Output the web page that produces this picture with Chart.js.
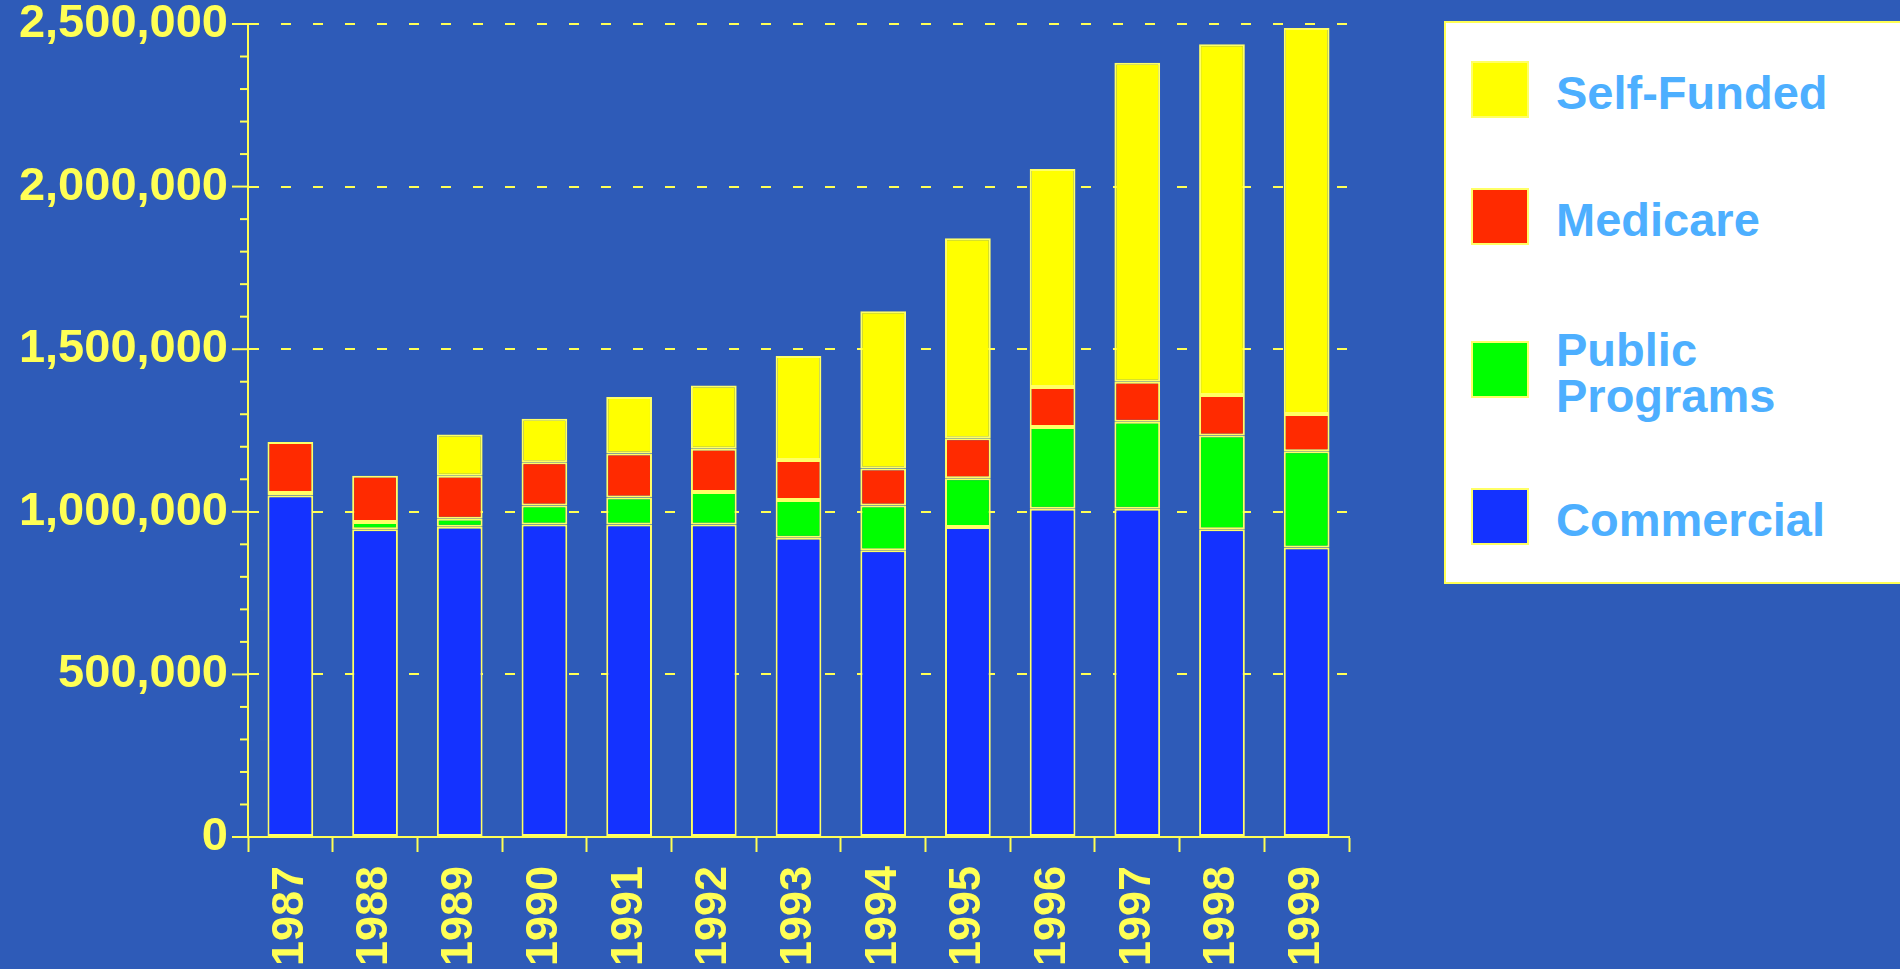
<!DOCTYPE html>
<html>
<head>
<meta charset="utf-8">
<script src="https://cdn.jsdelivr.net/npm/chart.js@4/dist/chart.umd.min.js"></script>
<style>
  body { margin: 0; background: #2E5BB8; overflow: hidden; }
  #wrap { position: relative; width: 1900px; height: 969px; }
  #legend {
    position: absolute; left: 1444px; top: 21px; width: 480px; height: 559px;
    background: #fff; border: 2px solid #FFFF55;
    font-family: "Liberation Sans", Arial, Helvetica, sans-serif; font-weight: bold;
    font-size: 47px; color: #4DAFFF;
  }
  .sw { position: absolute; left: 25px; width: 54px; height: 53px; border: 2px solid #FFFF66; }
  .lbl { position: absolute; left: 110px; line-height: 46px; }
</style>
</head>
<body>
<div id="wrap">
  <canvas id="payerChart" width="1900" height="969"></canvas>
  <div id="legend"></div>
</div>
<script>
const years = ["1987", "1988", "1989", "1990", "1991", "1992", "1993", "1994", "1995", "1996", "1997", "1998", "1999"];
const commercial = [1050000, 946000, 954000, 961000, 961000, 961000, 920000, 882000, 953000, 1009000, 1009000, 946000, 890000];
const publicPrograms = [8000, 23000, 25000, 58000, 83000, 100000, 116000, 137000, 150000, 252000, 268000, 289000, 296000];
const medicare = [157000, 142000, 132000, 133000, 135000, 133000, 123000, 114000, 123000, 123000, 123000, 124000, 115000];
const selfFunded = [0, 0, 127000, 134000, 174000, 194000, 320000, 484000, 615000, 670000, 981000, 1079000, 1187000];
const yMax = 2500000;
const yStep = 100000;
const yLabelStep = 500000;

const axisYellow = "#FFFF55";
const barBorder = "#FFFF66";
const fontFamily = '"Liberation Sans", Arial, Helvetica, sans-serif';

// y axis tick marks: long ones at labelled values, short ones in between
const yTickMarks = {
    id: "yTickMarks",
    afterDraw(chart) {
        const y = chart.scales.y;
        const ctx = chart.ctx;
        ctx.save();
        ctx.strokeStyle = axisYellow;
        ctx.lineWidth = 2;
        y.ticks.forEach(t => {
            const py = y.getPixelForValue(t.value);
            const len = t.value % yLabelStep === 0 ? 16 : 8;
            ctx.beginPath();
            ctx.moveTo(y.right - len, py);
            ctx.lineTo(y.right, py);
            ctx.stroke();
        });
        ctx.restore();
    }
};

function dataset(label, data, color) {
    return {
        label: label,
        data: data,
        backgroundColor: color,
        borderColor: barBorder,
        borderWidth: 2,
        borderSkipped: false,
        barPercentage: 0.9,
        categoryPercentage: 0.6
    };
}

const datasets = [
    dataset("Commercial", commercial, "#1432FF"),
    dataset("Public Programs", publicPrograms, "#00FF00"),
    dataset("Medicare", medicare, "#FF2A00"),
    dataset("Self-Funded", selfFunded, "#FFFF00")
];

new Chart(document.getElementById("payerChart").getContext("2d"), {
    type: "bar",
    data: { labels: years, datasets: datasets },
    plugins: [yTickMarks],
    options: {
        responsive: false,
        devicePixelRatio: 1,
        animation: false,
        layout: { padding: { top: 24, right: 551, bottom: 0, left: 0 } },
        plugins: { legend: { display: false }, tooltip: { enabled: false } },
        scales: {
            x: {
                stacked: true,
                grid: { drawOnChartArea: false, tickColor: axisYellow, tickWidth: 2, tickLength: 15 },
                border: { color: axisYellow, width: 2 },
                ticks: {
                    color: axisYellow,
                    font: { family: fontFamily, size: 45, weight: "bold" },
                    minRotation: 90,
                    maxRotation: 90,
                    autoSkip: false,
                    padding: 14
                },
                afterFit(scale) { scale.height = 132; }
            },
            y: {
                stacked: true,
                min: 0,
                max: yMax,
                grid: {
                    drawTicks: false,
                    lineWidth: 2,
                    color: c => (c.tick && c.tick.value % yLabelStep === 0) ? axisYellow : "transparent"
                },
                border: { color: axisYellow, width: 2, dash: [10, 22] },
                ticks: {
                    stepSize: yStep,
                    autoSkip: false,
                    color: axisYellow,
                    padding: 20,
                    font: { family: fontFamily, size: 47, weight: "bold" },
                    callback: v => v % yLabelStep === 0 ? v.toLocaleString("en-US") : ""
                },
                afterFit(scale) {
                    scale.width = 248;
                    scale.paddingTop = 0;
                    scale.paddingBottom = 0;
                }
            }
        }
    }
});

// legend box, top entry first as in the stack
const legendItems = [
    { text: ["Self-Funded"], color: "#FFFF00", top: 38 },
    { text: ["Medicare"], color: "#FF2A00", top: 165 },
    { text: ["Public", "Programs"], color: "#00FF00", top: 318 },
    { text: ["Commercial"], color: "#1432FF", top: 465 }
];
const legend = document.getElementById("legend");
legendItems.forEach(item => {
    const sw = document.createElement("div");
    sw.className = "sw";
    sw.style.top = item.top + "px";
    sw.style.background = item.color;
    legend.appendChild(sw);
    const lbl = document.createElement("div");
    lbl.className = "lbl";
    lbl.innerHTML = item.text.join("<br>");
    lbl.style.top = (item.top + 32 - item.text.length * 23) + "px";
    legend.appendChild(lbl);
});
</script>
</body>
</html>
